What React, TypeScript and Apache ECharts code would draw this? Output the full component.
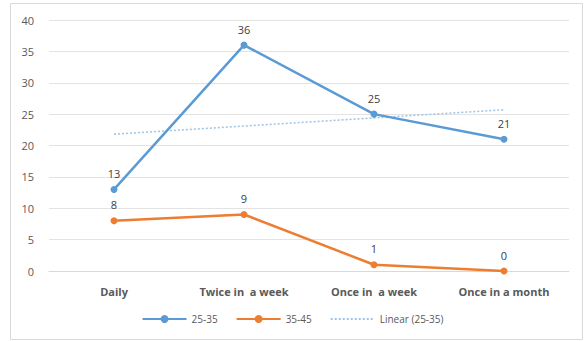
import React, { useEffect, useRef } from "react";
import * as echarts from "echarts";

const categories = ["Daily", "Twice in  a week", "Once in  a week", "Once in a month"];
const series2535 = [13, 36, 25, 21];
const series3545 = [8, 9, 1, 0];
const linear2535 = [21.8, 23.1, 24.4, 25.7];
const yTicks = [0, 5, 10, 15, 20, 25, 30, 35, 40];

export default function App() {
  const ref = useRef<HTMLDivElement>(null);
  useEffect(() => {
    if (!ref.current) return;
    const chart = echarts.init(ref.current, undefined, { renderer: "svg" });
    const font = "'Open Sans', 'Liberation Sans', sans-serif";
    chart.setOption({
      animation: false,
      backgroundColor: "#ffffff",
      textStyle: { fontFamily: font },
      graphic: [
        {
          type: "rect",
          shape: { x: 10.5, y: 3.5, width: 572, height: 336 },
          style: { fill: "none", stroke: "#d9d9d9", lineWidth: 1 },
          silent: true,
        },
      ],
      grid: { left: 49, right: 16, top: 20, bottom: 70 },
      legend: {
        bottom: 12,
        left: "center",
        itemGap: 18,
        itemWidth: 44,
        itemHeight: 10,
        textStyle: { color: "#595959", fontSize: 10, fontFamily: font },
        data: [
          "25-35",
          "35-45",
          { name: "Linear (25-35)", itemStyle: { opacity: 0 } },
        ],
      },
      xAxis: {
        type: "category",
        data: categories,
        boundaryGap: true,
        axisLine: { show: true, lineStyle: { color: "#d9d9d9", width: 1 } },
        axisTick: { show: false },
        axisLabel: { color: "#595959", fontSize: 11, fontWeight: "bold", margin: 15, fontFamily: font },
      },
      yAxis: {
        type: "value",
        min: yTicks[0],
        max: yTicks[yTicks.length - 1],
        interval: 5,
        axisLine: { show: false },
        axisTick: { show: false },
        splitLine: { lineStyle: { color: "#e3e3e3", width: 1 } },
        axisLabel: { color: "#595959", fontSize: 11, margin: 15, fontFamily: font },
      },
      series: [
        {
          name: "25-35",
          type: "line",
          data: series2535,
          color: "#5B9BD5",
          lineStyle: { width: 2.5, color: "#5B9BD5" },
          symbol: "circle",
          symbolSize: 7,
          itemStyle: { color: "#5B9BD5" },
          label: { show: true, position: "top", distance: 7, color: "#404040", fontSize: 11, fontFamily: font },
          z: 3,
        },
        {
          name: "35-45",
          type: "line",
          data: series3545,
          color: "#ED7D31",
          lineStyle: { width: 2.5, color: "#ED7D31" },
          symbol: "circle",
          symbolSize: 7,
          itemStyle: { color: "#ED7D31" },
          label: { show: true, position: "top", distance: 7, color: "#404040", fontSize: 11, fontFamily: font },
          z: 3,
        },
        {
          name: "Linear (25-35)",
          type: "line",
          data: linear2535,
          color: "#9DC3E6",
          lineStyle: { width: 1.5, type: [2, 2], color: "#9DC3E6" },
          symbol: "none",
          showSymbol: false,
          z: 2,
        },
      ],
    });
    return () => chart.dispose();
  }, []);
  return (
    <div
      ref={ref}
      style={{ position: "absolute", left: 0, top: 0, width: 585, height: 341 }}
    />
  );
}
